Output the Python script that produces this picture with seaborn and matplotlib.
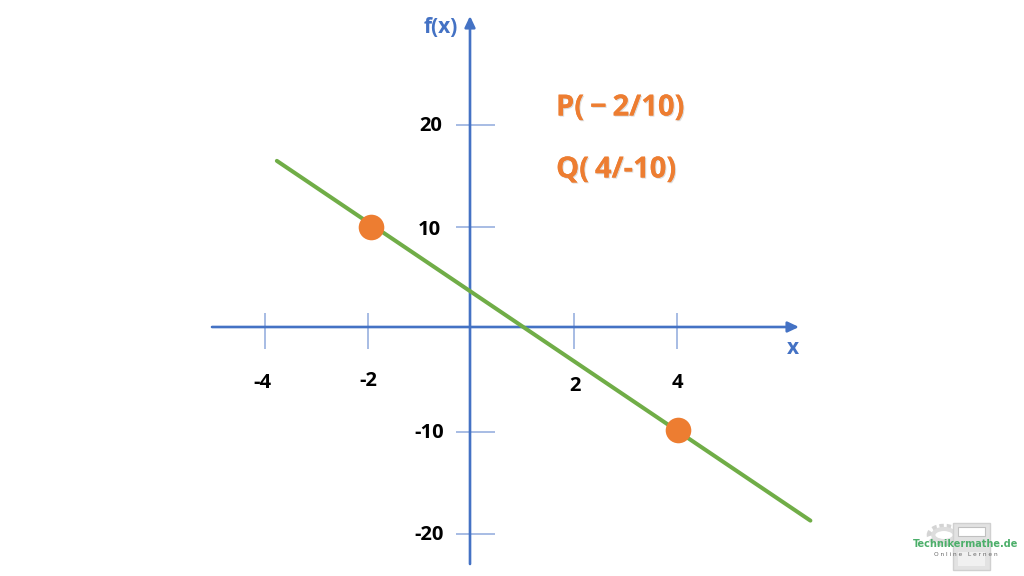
import matplotlib
matplotlib.use("Agg")
import matplotlib.pyplot as plt
import matplotlib.patheffects as pe
from matplotlib.patches import Circle, Rectangle
import pandas as pd
import seaborn as sns

# Data
line_x = [-3.76, 6.6]
line_y = [16.5, -18.7]
point_x = [-1.94, 4.03]
point_y = [10.05, -9.83]
x_ticks = [-4, -2, 2, 4]
y_ticks = [20, 10, -10, -20]
x_labels = ["-4", "-2", "2", "4"]
y_labels = ["20", "10", "-10", "-20"]
annotations = ["P(\u2009−\u20092/10)", "Q(\u20094/-10)"]

# Layout constants
W, H = 1024, 576
OX, OY = 470.5, 329.5
SX, SY = 51.5, 10.22
BLUE = "#4472C4"
TICK = "#8FAADC"
GREEN = "#70AD47"
ORANGE = "#ED7D31"

sns.set_theme(style="white")
plt.rcParams["font.family"] = ["Open Sans", "DejaVu Sans"]

fig = plt.figure(figsize=(W / 100, H / 100), dpi=100, facecolor="white")
ax = fig.add_axes([0, 0, 1, 1])


def dx(px):
    return (px - OX) / SX


def dy(py):
    return (OY - py) / SY


def frac(px, py):
    return px / W, 1 - py / H


# Ticks
ax.vlines(x_ticks, dy(349), dy(313), color=TICK, lw=1.1, zorder=1)
ax.hlines(y_ticks, dx(456), dx(495), color=TICK, lw=1.1, zorder=1)

# Axes with arrows
for start, end in [((212, 327), (799, 327)), ((470, 564), (470, 16))]:
    ax.annotate("", xy=(dx(end[0]), dy(end[1])), xytext=(dx(start[0]), dy(start[1])),
                arrowprops=dict(arrowstyle="-|>,head_length=0.55,head_width=0.26", color=BLUE,
                                lw=1.9, shrinkA=0, shrinkB=0), zorder=2)

# Line and points
df_line = pd.DataFrame({"x": line_x, "y": line_y})
df_pts = pd.DataFrame({"x": point_x, "y": point_y})
sns.lineplot(data=df_line, x="x", y="y", color=GREEN, lw=2.9, ax=ax, zorder=3,
             errorbar=None, sort=False)
sns.scatterplot(data=df_pts, x="x", y="y", color=ORANGE, s=340, linewidth=0, ax=ax, zorder=4)
ax.set_xlim(-OX / SX, (W - OX) / SX)
ax.set_ylim((OY - H) / SY, OY / SY)
ax.axis("off")

# Tick labels
label_style = dict(fontsize=14.5, fontweight="bold", color="black", ha="center", va="center")
for lab, px, py in zip(x_labels, [262, 368, 575, 677], [383, 381, 386, 383]):
    ax.text(dx(px), dy(py), lab, **label_style)
for lab, px, py in zip(y_labels, [431, 429, 429, 429], [126, 230, 433, 535]):
    ax.text(dx(px), dy(py), lab, **label_style)

ax.text(dx(441), dy(27), "f(x)", fontsize=15, fontweight="bold", color=BLUE, ha="center", va="center")
ax.text(dx(793), dy(348), "x", fontsize=15, fontweight="bold", color=BLUE, ha="center", va="center")

# Annotations
shadow = [pe.withSimplePatchShadow(offset=(0.8, -0.8), shadow_rgbFace="#bbbbbb", alpha=0.5), pe.Normal()]
for txt, py in zip(annotations, [108, 170]):
    ax.text(dx(556), dy(py), txt, fontsize=21, fontweight="bold", color=ORANGE,
            ha="left", va="center", path_effects=shadow)

# Watermark
tr = ax.transAxes
cx, cy = frac(944, 535)
ax.add_patch(Circle((cx, cy), 0.0135, transform=tr, fill=False, ec="#d4d4d4", lw=5,
                    ls=(0, (0.6, 0.4)), zorder=5))
ax.add_patch(Circle((cx, cy), 0.0105, transform=tr, fill=False, ec="#dddddd", lw=3, zorder=5))
x0, y0 = frac(953, 570)
ax.add_patch(Rectangle((x0, y0), 37 / W, 47 / H, transform=tr, fc="#e2e2e2", ec="#d0d0d0", lw=1, zorder=5))
x1, y1 = frac(958, 536)
ax.add_patch(Rectangle((x1, y1), 27 / W, 9 / H, transform=tr, fc="white", ec="#c0c0c0", lw=0.8, zorder=6))
x2, y2 = frac(958, 566)
ax.add_patch(Rectangle((x2, y2), 27 / W, 14 / H, transform=tr, fc="#f0f0f0", ec="none", zorder=6))
tx, ty = frac(966, 544)
ax.text(tx, ty, "Technikermathe.de", transform=tr, fontsize=7, fontweight="bold", color="#4CAF6A",
        family="DejaVu Sans", ha="center", va="center", zorder=7)
tx, ty = frac(966, 554)
ax.text(tx, ty, "O n l i n e   L e r n e n", transform=tr, fontsize=4.2, color="#666666",
        family="DejaVu Sans", ha="center", va="center", zorder=7)

fig.savefig("out.png", dpi=100, facecolor="white")
